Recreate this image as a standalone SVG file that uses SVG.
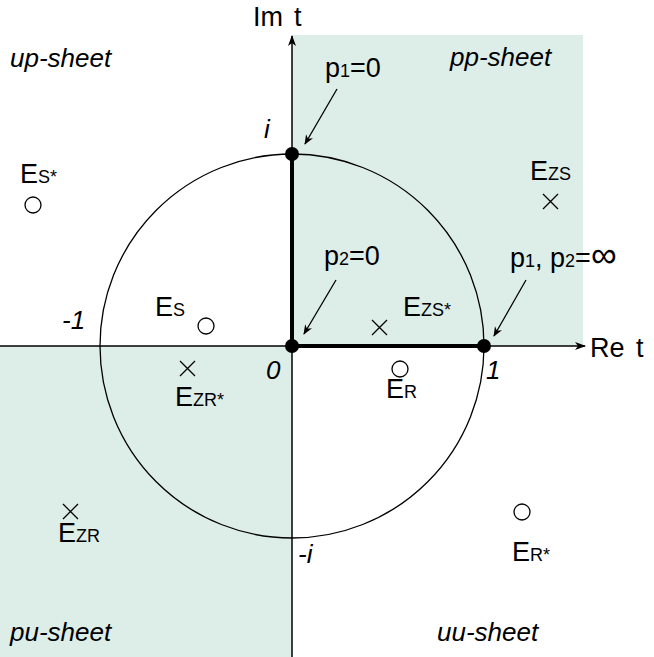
<svg xmlns="http://www.w3.org/2000/svg" width="654" height="657" viewBox="0 0 654 657">
<style>
text{font-family:"Liberation Sans",Arial,sans-serif;fill:#000}
.l{font-size:27px}
.s{font-size:18px}
.it{font-style:italic;font-size:26px}
.ax{stroke:#000;stroke-width:1.5;fill:none}
.thin{stroke:#000;stroke-width:1.3;fill:none}
.thick{stroke:#000;stroke-width:4;fill:none}
.x{stroke:#000;stroke-width:1.3}
</style>
<defs>
<marker id="ah" markerWidth="10" markerHeight="10" refX="9" refY="5" orient="auto" markerUnits="userSpaceOnUse"><path d="M0,1 L10,5 L0,9 L3,5 Z" fill="#000"/></marker>
<marker id="ah2" markerWidth="11" markerHeight="8" refX="10" refY="4" orient="auto" markerUnits="userSpaceOnUse"><path d="M0,0 L11,4 L0,8 L3,4 Z" fill="#000"/></marker>
</defs>
<rect x="0" y="0" width="654" height="657" fill="#fff"/>
<g id="sheets">
<rect x="292" y="35" width="291" height="311" fill="#ddede8"/>
<rect x="0" y="346" width="292" height="311" fill="#ddede8"/>
</g>
<g id="connectors">
<line class="ax" x1="0" y1="346" x2="585" y2="346" marker-end="url(#ah2)"/>
<line class="ax" x1="292" y1="657" x2="292" y2="36" marker-end="url(#ah2)"/>
<circle class="thin" cx="292" cy="346" r="192"/>
<line class="thick" x1="292" y1="154" x2="292" y2="346"/>
<line class="thick" x1="292" y1="346" x2="484" y2="346"/>
<line class="thin" x1="337" y1="89" x2="305" y2="144" marker-end="url(#ah)"/>
<line class="thin" x1="336" y1="280" x2="304" y2="334" marker-end="url(#ah)"/>
<line class="thin" x1="526" y1="280" x2="494" y2="336" marker-end="url(#ah)"/>
</g>
<g id="points">
<circle cx="292" cy="154" r="7"/>
<circle cx="292" cy="346" r="7"/>
<circle cx="484" cy="346" r="7"/>
</g>
<g id="labels">
<text class="l" x="253" y="26">Im</text><text class="l" x="294" y="26">t</text>
<text class="l" x="590" y="357">Re</text><text class="l" x="636" y="357">t</text>
<text class="it" x="264" y="138">i</text>
<text class="it" x="62" y="329">-1</text>
<text class="it" x="266" y="379">0</text>
<text class="it" x="486" y="379">1</text>
<text class="it" x="298" y="563">-i</text>
<text class="it" x="10" y="67">up-sheet</text>
<text class="it" x="450" y="66">pp-sheet</text>
<text class="it" x="10" y="641">pu-sheet</text>
<text class="it" x="437" y="641">uu-sheet</text>
<text class="l" x="325" y="77">p<tspan class="s">1</tspan>=0</text>
<text class="l" x="324" y="265">p<tspan class="s">2</tspan>=0</text>
<text class="l" x="510" y="267">p<tspan class="s">1</tspan>, p<tspan class="s">2</tspan>=<tspan font-size="36">∞</tspan></text>
</g>
<g id="E_Sstar"><text class="l" x="20" y="183">E<tspan class="s">S*</tspan></text><circle class="thin" cx="33" cy="205" r="8" fill="#fff"/></g>
<g id="E_S"><text class="l" x="155" y="316">E<tspan class="s">S</tspan></text><circle class="thin" cx="206" cy="326" r="8" fill="#fff"/></g>
<g id="E_ZS"><text class="l" x="530" y="180">E<tspan class="s">ZS</tspan></text><path class="x" d="M543,194 L558,209 M558,194 L543,209"/></g>
<g id="E_ZSstar"><text class="l" x="403" y="316">E<tspan class="s">ZS*</tspan></text><path class="x" d="M372,320 L387,335 M387,320 L372,335"/></g>
<g id="E_R"><text class="l" x="386" y="398">E<tspan class="s">R</tspan></text><circle class="thin" cx="400" cy="369" r="8" fill="#fff"/></g>
<g id="E_ZRstar"><text class="l" x="175" y="406">E<tspan class="s">ZR*</tspan></text><path class="x" d="M180,361 L195,376 M195,361 L180,376"/></g>
<g id="E_ZR"><text class="l" x="58" y="542">E<tspan class="s">ZR</tspan></text><path class="x" d="M63,504 L78,519 M78,504 L63,519"/></g>
<g id="E_Rstar"><text class="l" x="512" y="561">E<tspan class="s">R*</tspan></text><circle class="thin" cx="522" cy="512" r="8" fill="#fff"/></g>
</svg>
